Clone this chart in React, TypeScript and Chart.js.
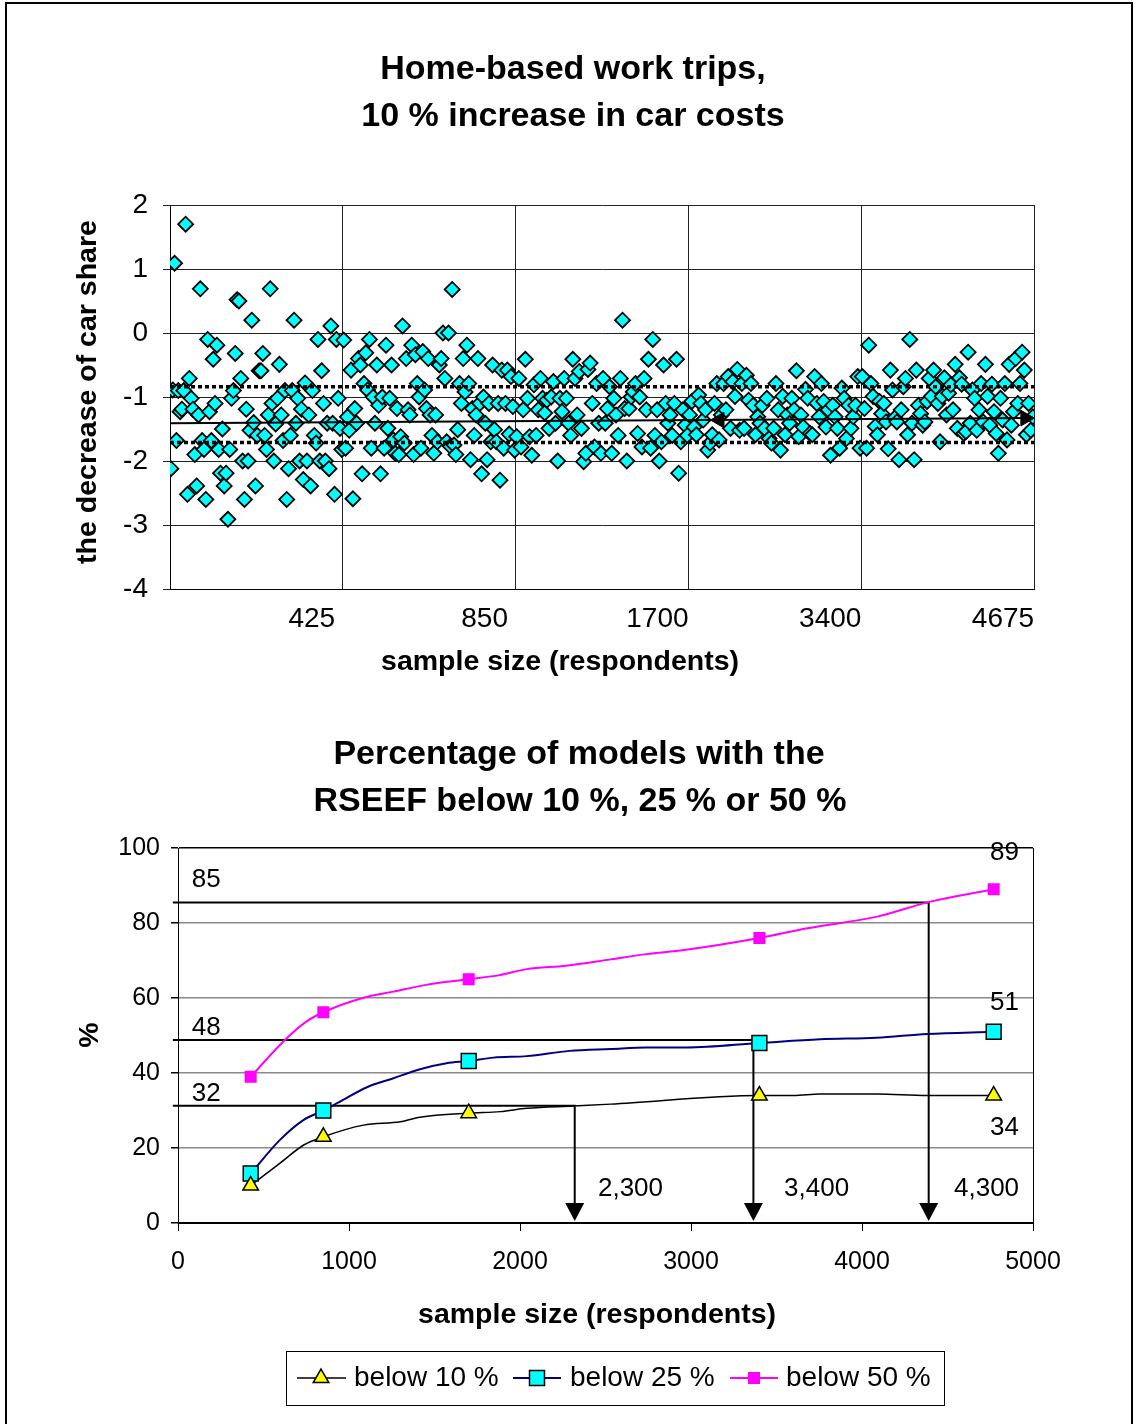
import React, { useEffect, useRef } from "react";
import { Chart, registerables } from "chart.js";

Chart.register(...registerables);

const FONT = "'Liberation Sans', Arial, Helvetica, sans-serif";

// ---------------- Top chart data ----------------
const topTitle = ["Home-based work trips,", "10 % increase in car costs"];
const topYTitle = "the decrease of car share";
const topXTitle = "sample size (respondents)";
const sampleSizeLabels = ["425", "850", "1700", "3400", "4675"];

const group425 = [-2.12, -0.89, 1.09, -1.68, -0.9, -1.23, -1.19, -0.9, 1.7, -2.52, -0.71, -1.02, -1.19, -1.9, -2.39, -1.28, 0.69, -1.68, -1.82, -2.6, -0.1, -1.23, -1.68, -0.41, -1.1, -0.19, -1.82, -2.19, -1.5, -2.39, -2.19, -2.91, -1.82, -1.02, -0.9, -0.32, 0.52, 0.5, -0.71, -2.0, -2.6, -1.19, -2.0, -1.52, 0.2, -1.4, -2.39, -1.6, -0.59, -0.59, -0.32, -1.6, -1.82, -1.28, 0.69, -1.1, -2.0, -1.42, -1.02, -0.49, -1.28, -1.68, -0.9, -2.6, -2.12, -1.6, -0.9, 0.2, -1.41, -1.02, -2.0, -1.19, -2.29, -0.78, -2.0, -1.28, -2.39, -0.9, -1.6, -1.72, -0.1, -2.0, -0.59, -1.1, -2.0, -1.41, -2.12, 0.11, -1.41, -2.52, -0.1, -1.02, -1.49, -1.82];

const group850 = [-0.11, -1.8, -1.31, -1.52, -0.58, -2.59, -1.18, -1.41, -0.4, -0.5, -2.2, -0.79, -0.31, -0.89, -0.1, -1.8, -1.0, -1.41, -0.5, -1.13, -2.2, -1.0, -1.8, -0.19, -1.49, -1.02, -0.5, -1.67, -1.88, -1.18, -1.9, -1.62, 0.11, -1.72, -0.4, -1.2, -1.28, -0.19, -1.9, -0.34, -0.79, -1.0, -1.8, -0.29, -0.89, -1.18, -0.4, -1.28, -1.6, -1.88, -1.28, -1.7, -0.5, -0.4, 0.0, -0.71, -1.7, 0.0, -1.77, 0.68, -1.75, -1.9, -1.51, -0.79, -1.1, -0.4, -0.92, -0.19, -0.79, -1.98, -1.18, -1.6, -1.28, -0.4, -1.1, -2.2, -1.0, -1.41, -1.98, -1.1, -1.7, -0.5, -1.51, -1.7, -1.1, -2.3, -0.58, -1.8, -1.1, -0.58, -1.58, -0.68, -1.15, -1.83];

const group1700 = [-1.62, -0.71, -1.78, -1.2, -0.41, -1.02, -1.62, -1.91, -0.81, -1.6, -1.2, -0.71, -1.02, -1.25, -1.05, -1.49, -1.0, -0.76, -1.41, -2.0, -1.02, -1.23, -0.71, -1.02, -1.41, -1.6, -0.41, -0.71, -1.28, -0.6, -1.49, -2.01, -1.88, -0.57, -0.47, -1.1, -1.78, -0.79, -1.41, -1.88, -0.71, -1.41, -1.18, -0.84, -1.88, -1.02, -1.28, -1.6, -0.71, 0.2, -1.18, -2.0, -1.18, -1.0, -0.92, -0.79, -1.57, -1.0, -1.78, -0.71, -1.2, -0.41, -1.8, -0.1, -1.6, -1.2, -2.0, -1.7, -0.5, -1.1, -1.41, -1.28, -1.6, -1.1, -0.41, -2.19, -1.7, -1.2, -1.44, -1.6];

const group3400 = [-1.28, -1.07, -1.47, -1.59, -0.97, -1.1, -1.36, -1.2, -1.83, -1.72, -1.59, -1.1, -0.79, -1.67, -1.28, -0.79, -1.2, -0.68, -1.49, -0.76, -0.99, -0.57, -1.52, -0.79, -1.49, -0.66, -1.05, -0.79, -1.13, -1.59, -1.31, -1.41, -1.13, -1.49, -1.02, -1.65, -1.72, -1.49, -0.79, -1.2, -1.83, -0.99, -1.59, -1.28, -1.41, -1.02, -1.2, -0.59, -1.62, -1.28, -1.47, -0.88, -1.02, -1.57, -1.59, -0.68, -1.1, -1.31, -0.79, -1.07, -1.47, -1.2, -1.91, -1.13, -1.31, -1.49, -1.8, -0.86, -1.02, -1.65, -1.13, -1.49, -1.31, -1.13, -0.68, -1.8];

const group4675 = [-0.68, -1.18, -1.8, -0.19, -0.79, -0.99, -1.46, -1.59, -1.07, -1.26, -1.1, -1.39, -1.81, -0.58, -0.89, -1.33, -1.39, -1.98, -1.2, -0.84, -0.71, -1.59, -0.1, -1.41, -1.98, -0.58, -1.13, -1.26, -1.44, -1.39, -1.07, -0.71, -0.99, -0.58, -0.84, -1.1, -1.7, -0.99, -0.7, -1.28, -0.94, -0.81, -1.2, -0.49, -1.49, -0.7, -0.8, -1.57, -1.54, -0.3, -1.41, -0.89, -1.02, -1.52, -1.2, -0.79, -1.39, -0.49, -0.99, -1.44, -0.8, -1.23, -1.57, -1.88, -1.02, -1.36, -0.79, -1.67, -0.49, -1.44, -1.23, -0.4, -1.1, -0.79, -0.3, -0.58, -1.59, -1.1, -1.52, -1.31];

const meanLine = [-1.41, -1.33];
const bandUpper = -0.84;
const bandLower = -1.71;

// ---------------- Bottom chart data ----------------
const bottomTitle = ["Percentage of models with the", "RSEEF below 10 %, 25 % or 50 %"];
const bottomXTitle = "sample size (respondents)";
const bottomYTitle = "%";
const seriesNames = ["below 10 %", "below 25 %", "below 50 %"];

const markerX = [425, 850, 1700, 3400, 4770];
const below10 = [10, 23, 29.3, 34, 34];
const below25 = [13.2, 30, 43.2, 48, 51];
const below50 = [39, 56.2, 65, 76, 89];

const below10CurveX = [425, 595, 735, 850, 1085, 1300, 1415, 1700, 1885, 2040, 2310, 2530, 3400, 3600, 3755, 4085, 4380, 4770];
const below10CurveY = [10, 15.9, 20.8, 23, 26.1, 27, 28.2, 29.3, 29.7, 30.6, 31.2, 31.7, 34, 34, 34.4, 34.4, 34, 34];
const below25CurveX = [425, 595, 735, 850, 945, 1105, 1260, 1415, 1570, 1700, 1845, 2040, 2290, 2530, 2740, 2975, 3400, 3755, 4085, 4380, 4770];
const below25CurveY = [13.2, 22.1, 27.5, 30, 32.3, 36.2, 38.6, 41, 42.6, 43.2, 44.1, 44.5, 45.9, 46.4, 46.8, 46.8, 48, 49, 49.4, 50.4, 51];
const below50CurveX = [425, 625, 750, 850, 1080, 1260, 1450, 1700, 1880, 2040, 2270, 2530, 2740, 2960, 3400, 3680, 4090, 4400, 4770];
const below50CurveY = [39, 48.8, 53.7, 56.2, 60, 61.7, 63.5, 65, 66.1, 67.7, 68.6, 70.3, 71.7, 72.8, 76, 78.6, 81.7, 85.7, 89];

// threshold annotations (85 %, 48 %, 32 %) and the sample sizes where they are reached
const thresholdY = [85.5, 48.8, 31.3];
const thresholdLabels = ["85", "48", "32"];
const thresholdLabelY = [91.6, 52.1, 34.4];
const crossX = [4390, 3365, 2320];
const crossLabels = ["4,300", "3,400", "2,300"];
const crossLabelX = [4538, 3544, 2456];
const crossLabelY = 9.1;
const endLabels = ["89", "51", "34"];
const endLabelY = [98.8, 58.8, 25.5];
const endLabelX = 4749;

const pts = (xs: number[], ys: number[]) => xs.map((x, i) => ({ x, y: ys[i] }));

function drawMarker(ctx: CanvasRenderingContext2D, kind: string, x: number, y: number) {
  ctx.save();
  ctx.beginPath();
  if (kind === "tri") {
    const r = 9;
    ctx.moveTo(x, y - r);
    ctx.lineTo(x + r * 0.866, y + r / 2);
    ctx.lineTo(x - r * 0.866, y + r / 2);
    ctx.closePath();
    ctx.fillStyle = "#FFFF00";
    ctx.fill();
    ctx.lineWidth = 1.5;
    ctx.strokeStyle = "#000";
    ctx.stroke();
  } else if (kind === "sq") {
    const s = 7.5;
    ctx.rect(x - s, y - s, 2 * s, 2 * s);
    ctx.fillStyle = "#00FFFF";
    ctx.fill();
    ctx.lineWidth = 1.5;
    ctx.strokeStyle = "#000";
    ctx.stroke();
  } else {
    const s = 6;
    ctx.rect(x - s, y - s, 2 * s, 2 * s);
    ctx.fillStyle = "#FF00FF";
    ctx.fill();
  }
  ctx.restore();
}

const topTextPlugin = {
  id: "topTexts",
  afterDraw(chart: any) {
    const ctx = chart.ctx as CanvasRenderingContext2D;
    ctx.save();
    ctx.fillStyle = "#000";
    ctx.textAlign = "center";
    ctx.textBaseline = "middle";
    ctx.font = `bold 34px ${FONT}`;
    ctx.fillText(topTitle[0], 573, 70);
    ctx.fillText(topTitle[1], 573, 117);
    ctx.font = `bold 28.5px ${FONT}`;
    ctx.fillText(topXTitle, 560, 662);
    ctx.translate(88, 392);
    ctx.rotate(-Math.PI / 2);
    ctx.fillText(topYTitle, 0, 0);
    ctx.restore();
  },
};

const bottomPlugin = {
  id: "bottomTexts",
  afterDatasetsDraw(chart: any) {
    const ctx = chart.ctx as CanvasRenderingContext2D;
    const xs = chart.scales.x;
    const ys = chart.scales.y;
    ctx.save();
    // arrow heads
    const tip = ys.getPixelForValue(0) - 2;
    ctx.fillStyle = "#000";
    crossX.forEach((cx) => {
      const px = xs.getPixelForValue(cx);
      ctx.beginPath();
      ctx.moveTo(px, tip);
      ctx.lineTo(px - 9.5, tip - 18);
      ctx.lineTo(px + 9.5, tip - 18);
      ctx.closePath();
      ctx.fill();
    });
    ctx.font = `26px ${FONT}`;
    ctx.textAlign = "left";
    ctx.textBaseline = "middle";
    thresholdLabels.forEach((t, i) => {
      ctx.fillText(t, xs.getPixelForValue(80), ys.getPixelForValue(thresholdLabelY[i]));
    });
    crossLabels.forEach((t, i) => {
      ctx.fillText(t, xs.getPixelForValue(crossLabelX[i]), ys.getPixelForValue(crossLabelY));
    });
    endLabels.forEach((t, i) => {
      ctx.fillText(t, xs.getPixelForValue(endLabelX), ys.getPixelForValue(endLabelY[i]));
    });
    ctx.restore();
  },
  afterDraw(chart: any) {
    const ctx = chart.ctx as CanvasRenderingContext2D;
    ctx.save();
    ctx.fillStyle = "#000";
    ctx.textAlign = "center";
    ctx.textBaseline = "middle";
    ctx.font = `bold 34px ${FONT}`;
    ctx.fillText(bottomTitle[0], 579, 55);
    ctx.fillText(bottomTitle[1], 580, 102);
    ctx.font = `bold 28.5px ${FONT}`;
    ctx.fillText(bottomXTitle, 597, 615);
    ctx.save();
    ctx.translate(90, 335);
    ctx.rotate(-Math.PI / 2);
    ctx.fillText(bottomYTitle, 0, 0);
    ctx.restore();

    // legend
    const bx = 286, by = 651, bw = 658, bh = 54;
    ctx.strokeStyle = "#000";
    ctx.lineWidth = 1;
    ctx.strokeRect(bx + 0.5, by + 0.5, bw, bh);
    const cy = by + bh / 2;
    const items = [
      { x0: 297, x1: 346, mx: 321, tx: 354, color: "#000", w: 1.5, kind: "tri" },
      { x0: 513, x1: 561, mx: 537, tx: 570, color: "#000080", w: 2, kind: "sq" },
      { x0: 730, x1: 778, mx: 754, tx: 786, color: "#FF00FF", w: 2, kind: "mag" },
    ];
    ctx.font = `28px ${FONT}`;
    ctx.textAlign = "left";
    items.forEach((it, i) => {
      ctx.beginPath();
      ctx.strokeStyle = it.color;
      ctx.lineWidth = it.w;
      ctx.moveTo(it.x0, cy);
      ctx.lineTo(it.x1, cy);
      ctx.stroke();
      drawMarker(ctx, it.kind, it.mx, cy);
      ctx.fillStyle = "#000";
      ctx.fillText(seriesNames[i], it.tx, cy);
    });
    ctx.restore();
  },
};

function topConfig(): any {
  const groups = [group425, group850, group1700, group3400, group4675];
  const scatterData = groups.flatMap((vals, g) =>
    vals.map((v, i) => ({ x: g * 100 + ((i + 0.5) * 100) / vals.length, y: v }))
  );
  return {
    type: "scatter",
    data: {
      datasets: [
        {
          type: "line",
          label: "mean",
          data: [{ x: 0, y: meanLine[0] }, { x: 500, y: meanLine[1] }],
          borderColor: "#000",
          borderWidth: 2,
          pointRadius: 0,
          order: 1,
        },
        {
          type: "line",
          label: "upper",
          data: [{ x: 0, y: bandUpper }, { x: 500, y: bandUpper }],
          borderColor: "#000",
          borderWidth: 3.5,
          borderDash: [4, 3],
          pointRadius: 0,
          order: 1,
        },
        {
          type: "line",
          label: "lower",
          data: [{ x: 0, y: bandLower }, { x: 500, y: bandLower }],
          borderColor: "#000",
          borderWidth: 3.5,
          borderDash: [4, 3],
          pointRadius: 0,
          order: 1,
        },
        {
          type: "scatter",
          label: "arrows",
          data: [
            { x: 318, y: -1.36 },
            { x: 495, y: meanLine[1] },
          ],
          pointStyle: "triangle",
          pointRotation: (c: any) => (c.dataIndex === 0 ? -90 : 90),
          pointRadius: 9,
          pointBackgroundColor: "#000",
          pointBorderColor: "#000",
          pointBorderWidth: 1,
          clip: false,
          order: 0,
        },
        {
          type: "scatter",
          label: "models",
          data: scatterData,
          pointStyle: "rectRot",
          pointRadius: 7.5,
          pointBackgroundColor: "#00FFFF",
          pointBorderColor: "#000",
          pointBorderWidth: 1.8,
          order: 2,
        },
      ],
    },
    options: {
      responsive: false,
      animation: false,
      events: [],
      layout: { padding: { top: 205, right: 101, left: 0, bottom: 0 } },
      plugins: { legend: { display: false }, title: { display: false }, tooltip: { enabled: false } },
      scales: {
        x: {
          type: "linear",
          min: 0,
          max: 500,
          afterBuildTicks: (s: any) => {
            s.ticks = [0, 100, 200, 300, 400, 500].map((v) => ({ value: v }));
          },
          ticks: {
            callback: (v: number) => (v === 0 ? "" : sampleSizeLabels[Math.round(v / 100) - 1]),
            labelOffset: -31,
            padding: 13,
            maxRotation: 0,
            autoSkip: false,
            color: "#000",
            font: { family: FONT, size: 28 },
          },
          grid: { color: "#222", lineWidth: 1, drawTicks: false },
          border: { color: "#000", width: 1 },
          afterFit: (s: any) => {
            s.height = 111;
          },
        },
        y: {
          min: -4,
          max: 2,
          ticks: { stepSize: 1, padding: 15, color: "#000", font: { family: FONT, size: 28 } },
          grid: { color: "#222", lineWidth: 1, tickLength: 7 },
          border: { color: "#000", width: 1 },
          afterFit: (s: any) => {
            s.width = 170;
          },
        },
      },
    },
    plugins: [topTextPlugin],
  };
}

function bottomConfig(): any {
  const thresholdSets = thresholdY.map((ty, i) => ({
    type: "line",
    label: "threshold " + thresholdLabels[i],
    data: [
      { x: -30, y: ty },
      { x: crossX[i], y: ty },
      { x: crossX[i], y: 3 },
    ],
    borderColor: "#000",
    borderWidth: 2,
    pointRadius: 0,
    tension: 0,
    clip: false,
    order: 5,
  }));
  return {
    type: "scatter",
    data: {
      datasets: [
        ...thresholdSets,
        {
          type: "line",
          label: seriesNames[0] + " curve",
          data: pts(below10CurveX, below10CurveY),
          borderColor: "#000",
          borderWidth: 1.5,
          pointRadius: 0,
          cubicInterpolationMode: "monotone",
          order: 4,
        },
        {
          type: "line",
          label: seriesNames[1] + " curve",
          data: pts(below25CurveX, below25CurveY),
          borderColor: "#000080",
          borderWidth: 2,
          pointRadius: 0,
          cubicInterpolationMode: "monotone",
          order: 4,
        },
        {
          type: "line",
          label: seriesNames[2] + " curve",
          data: pts(below50CurveX, below50CurveY),
          borderColor: "#FF00FF",
          borderWidth: 2,
          pointRadius: 0,
          cubicInterpolationMode: "monotone",
          order: 4,
        },
        {
          type: "scatter",
          label: seriesNames[0],
          data: pts(markerX, below10),
          pointStyle: "triangle",
          pointRadius: 9,
          pointBackgroundColor: "#FFFF00",
          pointBorderColor: "#000",
          pointBorderWidth: 1.5,
          clip: false,
          order: 1,
        },
        {
          type: "scatter",
          label: seriesNames[1],
          data: pts(markerX, below25),
          pointStyle: "rect",
          pointRadius: 10.5,
          pointBackgroundColor: "#00FFFF",
          pointBorderColor: "#000",
          pointBorderWidth: 1.5,
          clip: false,
          order: 1,
        },
        {
          type: "scatter",
          label: seriesNames[2],
          data: pts(markerX, below50),
          pointStyle: "rect",
          pointRadius: 8.5,
          pointBackgroundColor: "#FF00FF",
          pointBorderColor: "#FF00FF",
          pointBorderWidth: 0,
          clip: false,
          order: 1,
        },
      ],
    },
    options: {
      responsive: false,
      animation: false,
      events: [],
      layout: { padding: { top: 148, right: 102, left: 0, bottom: 0 } },
      plugins: { legend: { display: false }, title: { display: false }, tooltip: { enabled: false } },
      scales: {
        x: {
          type: "linear",
          min: 0,
          max: 5000,
          ticks: {
            stepSize: 1000,
            padding: 16,
            maxRotation: 0,
            color: "#000",
            font: { family: FONT, size: 25 },
            callback: (v: number) => String(v),
          },
          grid: {
            color: (c: any) => (c.tick && c.tick.value === 5000 ? "#000" : "rgba(0,0,0,0)"),
            tickColor: "#000",
            tickLength: 8,
            lineWidth: 1,
          },
          border: { color: "#000", width: 1 },
          afterFit: (s: any) => {
            s.height = 201;
          },
        },
        y: {
          min: 0,
          max: 100,
          ticks: { stepSize: 20, padding: 11, color: "#000", font: { family: FONT, size: 25 } },
          grid: {
            color: (c: any) => (c.tick && (c.tick.value === 0 || c.tick.value === 100) ? "#000" : "#8a8a8a"),
            tickColor: "#000",
            tickLength: 7,
            lineWidth: 1.5,
          },
          border: { color: "#000", width: 1 },
          afterFit: (s: any) => {
            s.width = 178;
          },
        },
      },
    },
    plugins: [bottomPlugin],
  };
}

export default function App() {
  const topRef = useRef<HTMLCanvasElement>(null);
  const botRef = useRef<HTMLCanvasElement>(null);

  useEffect(() => {
    const c1 = new Chart(topRef.current as HTMLCanvasElement, topConfig());
    const c2 = new Chart(botRef.current as HTMLCanvasElement, bottomConfig());
    return () => {
      c1.destroy();
      c2.destroy();
    };
  }, []);

  return (
    <div style={{ position: "absolute", left: 0, top: 0, width: 1135, height: 1424, background: "#fff", overflow: "hidden" }}>
      <div
        style={{
          position: "absolute",
          left: 5,
          top: 2,
          width: 1128,
          height: 1440,
          border: "2px solid #000",
          boxSizing: "border-box",
        }}
      />
      <canvas ref={topRef} width={1135} height={700} style={{ position: "absolute", left: 0, top: 0 }} />
      <canvas ref={botRef} width={1135} height={724} style={{ position: "absolute", left: 0, top: 700 }} />
    </div>
  );
}
